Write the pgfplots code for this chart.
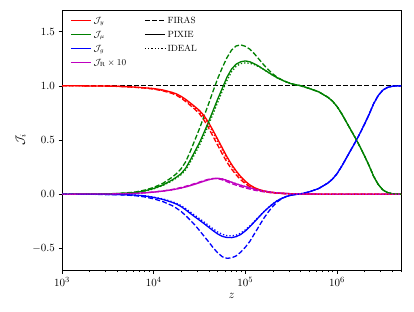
\documentclass[border=0pt]{standalone}
\usepackage{pgfplots}
\usepackage{pgfplotstable}
\pgfplotsset{compat=1.18}
\definecolor{mplred}{RGB}{255,0,0}
\definecolor{mplgreen}{RGB}{0,128,0}
\definecolor{mplblue}{RGB}{0,0,255}
\definecolor{mplmag}{RGB}{191,0,191}

% z  | J_y (PIXIE FIRAS IDEAL) | J_mu (P F I) | J_g (P F I) | J_R x10 (P F I)
\pgfplotstableread{
z ys yd yo ms md mo gs gd go rs rd ro
1000 1.000 1.000 1.000 0.000 0.000 0.000 0.000 0.000 0.000 0.000 0.000 0.000
1259 1.000 1.000 1.000 0.000 0.000 0.000 0.000 0.000 0.000 0.000 0.000 0.000
1585 1.000 1.000 1.000 0.001 0.001 0.001 0.000 -0.001 0.000 0.001 0.001 0.001
1995 0.999 0.999 0.999 0.001 0.001 0.001 -0.001 -0.001 -0.001 0.001 0.001 0.001
2512 0.999 0.998 0.999 0.002 0.002 0.002 -0.001 -0.002 -0.001 0.001 0.001 0.001
3162 0.998 0.997 0.998 0.003 0.004 0.003 -0.002 -0.003 -0.002 0.002 0.002 0.002
3981 0.996 0.995 0.996 0.005 0.007 0.005 -0.003 -0.005 -0.003 0.003 0.003 0.003
5012 0.993 0.991 0.992 0.009 0.012 0.008 -0.005 -0.008 -0.004 0.005 0.005 0.005
6310 0.988 0.986 0.987 0.015 0.020 0.014 -0.009 -0.014 -0.008 0.008 0.008 0.008
7943 0.982 0.979 0.981 0.030 0.037 0.028 -0.016 -0.025 -0.014 0.012 0.013 0.012
10000 0.975 0.970 0.973 0.052 0.062 0.049 -0.030 -0.043 -0.027 0.019 0.020 0.019
12589 0.962 0.954 0.958 0.085 0.100 0.080 -0.048 -0.068 -0.044 0.028 0.030 0.028
15849 0.940 0.930 0.936 0.130 0.155 0.122 -0.075 -0.105 -0.069 0.040 0.043 0.040
17783 0.925 0.912 0.919 0.158 0.190 0.150 -0.092 -0.130 -0.085 0.048 0.052 0.048
19953 0.903 0.886 0.897 0.190 0.235 0.180 -0.115 -0.160 -0.106 0.057 0.062 0.057
22387 0.875 0.855 0.867 0.240 0.300 0.225 -0.145 -0.198 -0.134 0.067 0.073 0.067
25119 0.842 0.820 0.834 0.315 0.395 0.295 -0.178 -0.240 -0.165 0.079 0.085 0.080
28184 0.808 0.783 0.799 0.395 0.500 0.372 -0.210 -0.285 -0.196 0.092 0.098 0.093
31623 0.772 0.742 0.760 0.475 0.605 0.450 -0.240 -0.335 -0.226 0.106 0.112 0.107
35481 0.725 0.683 0.709 0.570 0.720 0.543 -0.272 -0.388 -0.257 0.120 0.126 0.121
39811 0.660 0.610 0.642 0.670 0.835 0.642 -0.305 -0.440 -0.289 0.133 0.138 0.134
44668 0.585 0.530 0.565 0.775 0.955 0.745 -0.338 -0.495 -0.321 0.143 0.145 0.144
50119 0.505 0.450 0.485 0.880 1.070 0.850 -0.368 -0.543 -0.350 0.146 0.143 0.147
56234 0.425 0.370 0.405 0.980 1.170 0.952 -0.390 -0.578 -0.371 0.140 0.132 0.141
63096 0.345 0.295 0.328 1.080 1.260 1.050 -0.400 -0.592 -0.383 0.126 0.115 0.128
70795 0.275 0.232 0.260 1.155 1.330 1.130 -0.401 -0.588 -0.385 0.110 0.098 0.112
79433 0.215 0.178 0.202 1.200 1.368 1.180 -0.392 -0.570 -0.378 0.095 0.083 0.097
89125 0.162 0.133 0.152 1.222 1.378 1.205 -0.372 -0.535 -0.360 0.082 0.070 0.083
100000 0.120 0.097 0.111 1.230 1.365 1.212 -0.340 -0.490 -0.330 0.070 0.058 0.071
112202 0.085 0.068 0.079 1.222 1.338 1.208 -0.300 -0.435 -0.292 0.058 0.047 0.059
125893 0.060 0.048 0.056 1.203 1.295 1.195 -0.255 -0.365 -0.250 0.047 0.037 0.048
141254 0.043 0.035 0.040 1.180 1.245 1.175 -0.210 -0.295 -0.206 0.037 0.029 0.038
158489 0.031 0.025 0.029 1.152 1.195 1.150 -0.165 -0.225 -0.163 0.029 0.022 0.030
177828 0.022 0.018 0.020 1.125 1.150 1.124 -0.126 -0.165 -0.124 0.022 0.017 0.023
199526 0.016 0.012 0.015 1.098 1.110 1.098 -0.090 -0.112 -0.089 0.016 0.012 0.017
223872 0.011 0.009 0.010 1.073 1.078 1.073 -0.060 -0.070 -0.059 0.012 0.009 0.012
251189 0.008 0.006 0.007 1.053 1.055 1.053 -0.038 -0.040 -0.037 0.009 0.006 0.009
281838 0.006 0.004 0.005 1.035 1.036 1.035 -0.021 -0.020 -0.020 0.006 0.004 0.006
316228 0.004 0.003 0.004 1.020 1.021 1.020 -0.010 -0.008 -0.009 0.004 0.003 0.004
354813 0.003 0.002 0.003 1.010 1.010 1.010 -0.003 -0.002 -0.003 0.003 0.002 0.003
398107 0.002 0.001 0.002 1.002 1.002 1.002 0.002 0.002 0.002 0.002 0.001 0.002
501187 0.001 0.000 0.001 0.975 0.975 0.975 0.022 0.022 0.022 0.001 0.000 0.001
630957 0.000 0.000 0.000 0.945 0.945 0.945 0.052 0.052 0.052 0.000 0.000 0.000
794328 0.000 0.000 0.000 0.895 0.895 0.895 0.102 0.102 0.102 0.000 0.000 0.000
891251 0.000 0.000 0.000 0.860 0.860 0.860 0.138 0.138 0.138 0.000 0.000 0.000
1000000 0.000 0.000 0.000 0.810 0.810 0.810 0.188 0.188 0.188 0.000 0.000 0.000
1122018 0.000 0.000 0.000 0.745 0.745 0.745 0.255 0.255 0.255 0.000 0.000 0.000
1258925 0.000 0.000 0.000 0.670 0.670 0.670 0.330 0.330 0.330 0.000 0.000 0.000
1412538 0.000 0.000 0.000 0.595 0.595 0.595 0.405 0.405 0.405 0.000 0.000 0.000
1584893 0.000 0.000 0.000 0.520 0.520 0.520 0.480 0.480 0.480 0.000 0.000 0.000
1778279 0.000 0.000 0.000 0.440 0.440 0.440 0.560 0.560 0.560 0.000 0.000 0.000
1995262 0.000 0.000 0.000 0.355 0.355 0.355 0.645 0.645 0.645 0.000 0.000 0.000
2238721 0.000 0.000 0.000 0.265 0.265 0.265 0.735 0.735 0.735 0.000 0.000 0.000
2511886 0.000 0.000 0.000 0.165 0.165 0.165 0.835 0.835 0.835 0.000 0.000 0.000
2818383 0.000 0.000 0.000 0.090 0.090 0.090 0.910 0.910 0.910 0.000 0.000 0.000
3162278 0.000 0.000 0.000 0.040 0.040 0.040 0.960 0.960 0.960 0.000 0.000 0.000
3548134 0.000 0.000 0.000 0.015 0.015 0.015 0.985 0.985 0.985 0.000 0.000 0.000
3981072 0.000 0.000 0.000 0.005 0.005 0.005 0.995 0.995 0.995 0.000 0.000 0.000
4466836 0.000 0.000 0.000 0.001 0.001 0.001 0.999 0.999 0.999 0.000 0.000 0.000
5011872 0.000 0.000 0.000 0.000 0.000 0.000 1.000 1.000 1.000 0.000 0.000 0.000
}\datatable

\tikzset{
  fdash/.style={dash pattern=on 5pt off 2.2pt},
  idot/.style={dash pattern=on 1.3pt off 2pt},
}

\begin{document}
\begin{tikzpicture}
\useasboundingbox (-62pt,-41pt) rectangle (352pt,270pt);
\begin{axis}[
  at={(0,0)}, anchor=south west,
  scale only axis, width=339pt, height=260pt,
  xmode=log, xmin=1000, xmax=5e6,
  ymin=-0.7, ymax=1.7,
  ytick={-0.5,0,0.5,1,1.5},
  yticklabel style={/pgf/number format/.cd,fixed,fixed zerofill,precision=1},
  tick label style={font=\fontsize{11}{13}\selectfont},
  label style={font=\fontsize{12}{14}\selectfont},
  xlabel={$z$}, ylabel={$\mathcal{J}_i$},
  tick align=outside, xtick pos=bottom, ytick pos=left,
  major tick length=3.5pt, minor tick length=2pt,
  axis line style={line width=0.6pt},
  every tick/.style={black, line width=0.6pt},
  clip=true,
  legend columns=2,
  legend cell align=left,
  legend image code/.code={\draw[#1] (0pt,0pt) -- (20pt,0pt);},
  legend style={at={(0.015,0.99)}, anchor=north west, draw=none, fill=none,
    font=\fontsize{9}{10}\selectfont, row sep=2.2pt,
    /tikz/every even column/.append style={column sep=16pt}},
]
\addlegendimage{mplred, line width=1.3pt}\addlegendentry{$\mathcal{J}_y$}
\addlegendimage{black, line width=1.3pt, fdash}\addlegendentry{FIRAS}
\addlegendimage{mplgreen, line width=1.3pt}\addlegendentry{$\mathcal{J}_\mu$}
\addlegendimage{black, line width=1.3pt}\addlegendentry{PIXIE}
\addlegendimage{mplblue, line width=1.3pt}\addlegendentry{$\mathcal{J}_g$}
\addlegendimage{black, line width=1.3pt, idot}\addlegendentry{IDEAL}
\addlegendimage{mplmag, line width=1.3pt}\addlegendentry{$\mathcal{J}_{\rm R}\times 10$}
\addlegendimage{empty legend}\addlegendentry{}

\addplot[forget plot, black, line width=1.3pt, fdash] coordinates {(1000,1) (5e6,1)};

% FIRAS (dashed)
\addplot[forget plot, mplred, line width=1.3pt, fdash] table[x=z, y=yd] {\datatable};
\addplot[forget plot, mplgreen, line width=1.3pt, fdash] table[x=z, y=md] {\datatable};
\addplot[forget plot, mplblue, line width=1.3pt, fdash] table[x=z, y=gd] {\datatable};
\addplot[forget plot, mplmag, line width=1.3pt, fdash] table[x=z, y=rd] {\datatable};
% PIXIE (solid)
\addplot[forget plot, mplred, line width=1.3pt] table[x=z, y=ys] {\datatable};
\addplot[forget plot, mplgreen, line width=1.3pt] table[x=z, y=ms] {\datatable};
\addplot[forget plot, mplblue, line width=1.3pt] table[x=z, y=gs] {\datatable};
\addplot[forget plot, mplmag, line width=1.3pt] table[x=z, y=rs] {\datatable};
% IDEAL (dotted)
\addplot[forget plot, mplred, line width=1.3pt, idot] table[x=z, y=yo] {\datatable};
\addplot[forget plot, mplgreen, line width=1.3pt, idot] table[x=z, y=mo] {\datatable};
\addplot[forget plot, mplblue, line width=1.3pt, idot] table[x=z, y=go] {\datatable};
\addplot[forget plot, mplmag, line width=1.3pt, idot] table[x=z, y=ro] {\datatable};
\end{axis}
\end{tikzpicture}
\end{document}
